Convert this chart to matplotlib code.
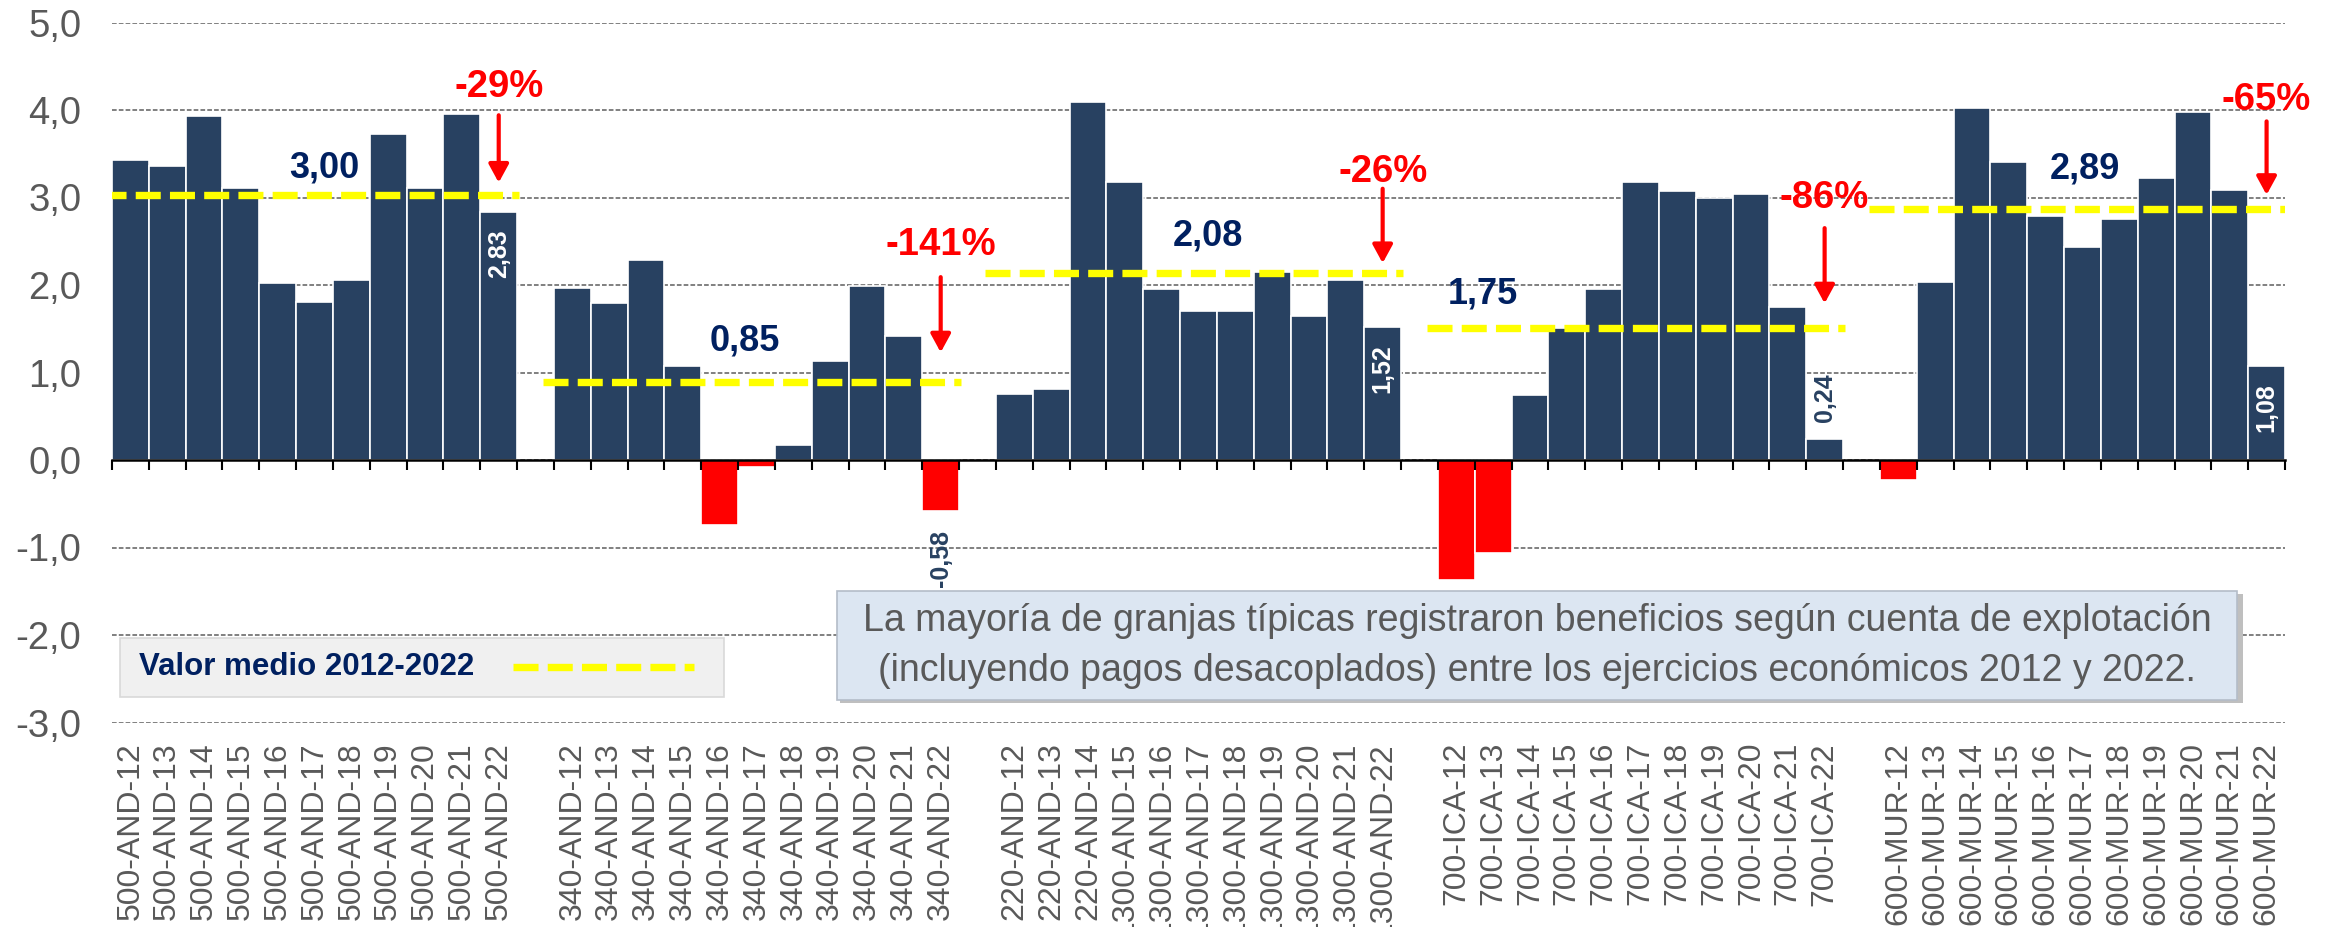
import numpy as np
import matplotlib
matplotlib.use("Agg")
import matplotlib.pyplot as plt
from matplotlib.patches import Rectangle
from matplotlib.lines import Line2D

plt.rcParams['font.family'] = ['Liberation Sans', 'DejaVu Sans']

# datos (beneficio por granja tipica)
anios = ["12", "13", "14", "15", "16", "17", "18", "19", "20", "21", "22"]

etiquetas_500 = ["500-AND-" + a for a in anios]
etiquetas_340 = ["340-AND-" + a for a in anios]
etiquetas_220 = ["220-AND-12", "220-AND-13", "220-AND-14", "1300-AND-15", "1300-AND-16",
                 "1300-AND-17", "1300-AND-18", "1300-AND-19", "1300-AND-20", "1300-AND-21",
                 "1300-AND-22"]
etiquetas_700 = ["700-ICA-" + a for a in anios]
etiquetas_600 = ["600-MUR-" + a for a in anios]

valores_500 = [3.43, 3.36, 3.93, 3.11, 2.02, 1.81, 2.06, 3.73, 3.11, 3.95, 2.83]
valores_340 = [1.97, 1.79, 2.29, 1.08, -0.74, -0.08, 0.17, 1.13, 1.99, 1.42, -0.58]
valores_220 = [0.76, 0.81, 4.09, 3.18, 1.95, 1.70, 1.70, 2.15, 1.65, 2.06, 1.52]
valores_700 = [-1.37, -1.06, 0.74, 1.51, 1.95, 3.18, 3.07, 3.00, 3.04, 1.75, 0.24]
valores_600 = [-0.23, 2.04, 4.02, 3.41, 2.79, 2.43, 2.75, 3.22, 3.98, 3.09, 1.08]

medias = [3.00, 0.85, 2.08, 1.75, 2.89]          # texto del valor medio
nivel_linea = [3.03, 0.89, 2.14, 1.51, 2.87]     # altura de la linea amarilla
variacion = ["-29%", "-141%", "-26%", "-86%", "-65%"]

grupos_val = [valores_500, valores_340, valores_220, valores_700, valores_600]
grupos_etq = [etiquetas_500, etiquetas_340, etiquetas_220, etiquetas_700, etiquetas_600]

# posiciones de los textos (eje x en huecos, eje y en valor)
pos_media = [(5.26, 3.34), (16.69, 1.36), (29.26, 2.56), (36.72, 1.90), (53.07, 3.32)]
y_pct = [4.26, 2.46, 3.29, 3.00, 4.11]
flecha_ini = [3.94, 2.09, 3.10, 2.65, 3.87]
flecha_fin = [3.17, 1.23, 2.25, 1.79, 3.03]

AZUL = '#284161'
ROJO = '#FF0000'
AMARILLO = '#FFFF00'
NAVY = '#002060'
GRIS = '#595959'

W, H = 2335, 927
fx = lambda x: x / W
fy = lambda y: 1 - y / H

fig = plt.figure(figsize=(W / 100, H / 100), dpi=100)
ax = fig.add_axes([fx(112), fy(722.5), (2285 - 112) / W, (722.5 - 22.5) / H])

xticks = []
xlabels = []
for g in range(5):
    x = g * 12 + np.arange(11)
    vals = np.array(grupos_val[g])
    colores = np.where(vals < 0, ROJO, AZUL)
    ax.bar(x, vals, width=1.0, color=colores, edgecolor='white', linewidth=1.2, zorder=2)
    ax.plot([x[0] - 0.8, x[-1] + 0.55], [nivel_linea[g], nivel_linea[g]], color=AMARILLO,
            lw=5.3, dashes=(3.4, 1.25), zorder=3)
    xticks += list(x)
    xlabels += grupos_etq[g]

    # valor medio
    ax.text(pos_media[g][0], pos_media[g][1], f"{medias[g]:.2f}".replace('.', ','),
            color=NAVY, fontsize=26, fontweight='bold', ha='center', va='center', zorder=4)

    # ultimo anio
    xu = x[-1]
    vu = vals[-1]
    txt = f"{vu:.2f}".replace('.', ',')
    if vu >= 1:
        ax.text(xu, vu - 0.2, txt, rotation=90, color='white', fontsize=18,
                fontweight='bold', ha='center', va='top', zorder=4)
    elif vu >= 0:
        ax.text(xu, vu + 0.2, txt, rotation=90, color=AZUL, fontsize=18,
                fontweight='bold', ha='center', va='bottom', zorder=4)
    else:
        ax.text(xu, vu - 0.22, txt, rotation=90, color=AZUL, fontsize=18,
                fontweight='bold', ha='center', va='top', zorder=4)

    # variacion y flecha
    ax.text(xu, y_pct[g], variacion[g], color=ROJO, fontsize=27.5, fontweight='bold',
            ha='center', va='center', zorder=4)
    ax.annotate('', xy=(xu, flecha_fin[g]), xytext=(xu, flecha_ini[g]),
                arrowprops=dict(arrowstyle='-|>,head_length=0.55,head_width=0.3',
                                color=ROJO, lw=3, mutation_scale=20,
                                shrinkA=0, shrinkB=0), zorder=4)

ax.set_xlim(-0.5, 58.5)
ax.set_ylim(-3, 5)

yt = np.arange(-3, 6)
ax.set_yticks(yt)
ax.set_yticklabels([f"{v:.1f}".replace('.', ',') for v in yt])
ax.set_xticks(xticks)
ax.set_xticklabels(xlabels)

for s in ax.spines.values():
    s.set_visible(False)
ax.tick_params(axis='both', length=0)
ax.tick_params(axis='x', pad=14, labelsize=23, labelcolor=GRIS, labelrotation=90)
ax.tick_params(axis='y', pad=22, labelsize=27.5, labelcolor=GRIS)

ax.set_axisbelow(True)
ax.yaxis.grid(True, color='#808080', lw=1.4, linestyle=(0, (2.4, 1.1)))
ax.xaxis.grid(False)

# eje horizontal en el cero con marcas entre categorias
cero = (0 - (-3)) / (5 - (-3))
sec = ax.secondary_xaxis(cero)
sec.set_zorder(5)
sec.set_xticks(np.arange(-0.5, 59, 1))
sec.tick_params(axis='x', direction='out', length=7.5, width=1.5, color='black',
                labelbottom=False, labeltop=False)
sec.spines['bottom'].set_color('black')
sec.spines['bottom'].set_linewidth(1.8)

# leyenda
fig.add_artist(Rectangle((fx(120), fy(697)), (724 - 120) / W, (697 - 638) / H,
                         transform=fig.transFigure, facecolor='#F0F0F0',
                         edgecolor='#D9D9D9', lw=1.2))
fig.text(fx(139), fy(667), "Valor medio 2012-2022", color=NAVY, fontsize=22.5,
         fontweight='bold', ha='left', va='center')
fig.add_artist(Line2D([fx(513), fx(694)], [fy(667), fy(667)], transform=fig.transFigure,
                      color=AMARILLO, lw=5.3, dashes=(3.4, 1.25)))

# recuadro de texto
fig.add_artist(Rectangle((fx(840), fy(703)), (2240 - 837) / W, (700 - 591) / H,
                         transform=fig.transFigure, facecolor='#BFBFBF',
                         edgecolor='none'))
fig.add_artist(Rectangle((fx(837), fy(700)), (2237 - 837) / W, (700 - 591) / H,
                         transform=fig.transFigure, facecolor='#DCE6F2',
                         edgecolor='#B4BCC8', lw=1.2))
fig.text(fx(1537), fy(621), "La mayoría de granjas típicas registraron beneficios según cuenta de explotación",
         color=GRIS, fontsize=27, ha='center', va='center')
fig.text(fx(1537), fy(671), "(incluyendo pagos desacoplados) entre los ejercicios económicos 2012 y 2022.",
         color=GRIS, fontsize=27, ha='center', va='center')

fig.savefig("out.png", dpi=100)
